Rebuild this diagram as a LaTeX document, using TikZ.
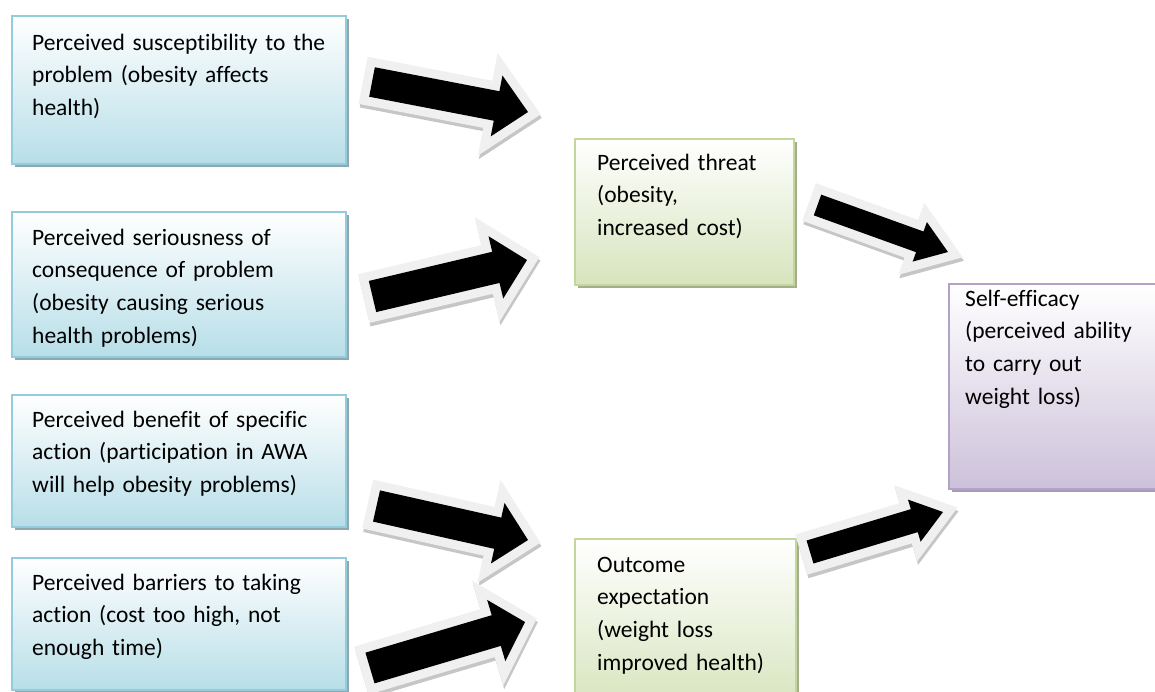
\documentclass[tikz,border=0pt]{standalone}
\usepackage{fontspec}
\setmainfont{Carlito}[Ligatures=NoCommon]
\usetikzlibrary{calc,shadows}

\definecolor{bluerim}{HTML}{93CDDD}
\definecolor{bluefill}{HTML}{B7DEE8}
\definecolor{blueshade}{HTML}{8FA8B0}
\definecolor{greenrim}{HTML}{C3D69B}
\definecolor{greenfill}{HTML}{D7E4BD}
\definecolor{greenshade}{HTML}{A4AE8C}
\definecolor{purplerim}{HTML}{B3A2C7}
\definecolor{purplefill}{HTML}{CCC1DA}
\definecolor{purpleshade}{HTML}{A79CB3}
\definecolor{arrowrimgray}{HTML}{F0F0F0}
\definecolor{arrowshadegray}{HTML}{C6C6C6}

\tikzset{
  box/.style={draw=#1rim, line width=2pt, top color=white, bottom color=#1fill,
    general shadow={fill=#1shade, shadow xshift=3pt, shadow yshift=-3pt},
    inner sep=0pt, anchor=north west},
  txt/.style={anchor=base west, inner sep=0pt, align=left, text width=330pt,
    font=\fontsize{23.5}{32.8}\selectfont},
  arrowshadow/.style={draw=arrowshadegray, fill=arrowshadegray, line width=18pt,
    line join=miter, transform canvas={shift={(1pt,-3.5pt)}}},
  arrowrim/.style={draw=arrowrimgray, fill=arrowrimgray, line width=18pt, line join=miter},
  arrowbody/.style={fill=black}
}

% fat arrow: tail, tip, half shaft, half head, head length
\newcommand{\fatarrow}[5]{%
  \coordinate (#1-hb) at ($(#2)!#5!(#1)$);
  \coordinate (#1-1) at ($(#1)!#3!90:(#2)$);
  \coordinate (#1-2) at ($(#1-hb)!#3!90:(#2)$);
  \coordinate (#1-3) at ($(#1-hb)!#4!90:(#2)$);
  \coordinate (#1-4) at ($(#1-hb)!#4!-90:(#2)$);
  \coordinate (#1-5) at ($(#1-hb)!#3!-90:(#2)$);
  \coordinate (#1-6) at ($(#1)!#3!-90:(#2)$);
  \draw[arrowshadow] (#1-1) -- (#1-2) -- (#1-3) -- (#2) -- (#1-4) -- (#1-5) -- (#1-6) -- cycle;
  \draw[arrowrim] (#1-1) -- (#1-2) -- (#1-3) -- (#2) -- (#1-4) -- (#1-5) -- (#1-6) -- cycle;
  \fill[arrowbody] (#1-1) -- (#1-2) -- (#1-3) -- (#2) -- (#1-4) -- (#1-5) -- (#1-6) -- cycle;
}

\begin{document}
\begin{tikzpicture}[x=1pt,y=-1pt]
\useasboundingbox (0,0) rectangle (1155,691);
\clip (0,0) rectangle (1155,691);

% left column
\node[box=blue, minimum width=334pt, minimum height=148pt](susc) at (11,15){};
\node[txt](susc-t) at (32,50){Perceived susceptibility to the\\problem (obesity affects\\health)};
\node[box=blue, minimum width=334pt, minimum height=145pt](serious) at (11,211){};
\node[txt](serious-t) at (32,245){Perceived seriousness of\\consequence of problem\\(obesity causing serious\\health problems)};
\node[box=blue, minimum width=334pt, minimum height=132pt](benefit) at (11,394){};
\node[txt](benefit-t) at (32,427){Perceived benefit of specific\\action (participation in AWA\\will help obesity problems)};
\node[box=blue, minimum width=334pt, minimum height=132pt](barrier) at (11,557){};
\node[txt](barrier-t) at (32,590){Perceived barriers to taking\\action (cost too high, not\\enough time)};

% middle column
\node[box=green, minimum width=219pt, minimum height=146pt](threat) at (574,138){};
\node[txt](threat-t) at (597,170){Perceived threat\\(obesity,\\increased cost)};
\node[box=green, minimum width=221pt, minimum height=170pt](outcome) at (574,538){};
\node[txt](outcome-t) at (597,572){Outcome\\expectation\\(weight loss\\improved health)};

% right column
\node[box=purple, minimum width=220pt, minimum height=205pt](selfeff) at (948,283){};
\node[txt](selfeff-t) at (965,306){Self-efficacy\\(perceived ability\\to carry out\\weight loss)};

% arrows
\coordinate (a1) at (372,82);   \coordinate (h1) at (528,112);
\coordinate (a2) at (372.5,296.5); \coordinate (h2) at (527,260);
\coordinate (a3) at (376.5,506); \coordinate (h3) at (528,540);
\coordinate (a4) at (370,668);  \coordinate (h4) at (525,622);
\coordinate (a5) at (817.5,205); \coordinate (h5) at (948,252);
\coordinate (a6) at (810,552);  \coordinate (h6) at (943,512);
\fatarrow{a1}{h1}{15pt}{31pt}{32pt}
\fatarrow{a2}{h2}{16pt}{32pt}{32pt}
\fatarrow{a3}{h3}{16pt}{31pt}{31pt}
\fatarrow{a4}{h4}{16pt}{32pt}{30pt}
\fatarrow{a5}{h5}{11pt}{21pt}{30pt}
\fatarrow{a6}{h6}{12pt}{22pt}{30pt}
\end{tikzpicture}
\end{document}
